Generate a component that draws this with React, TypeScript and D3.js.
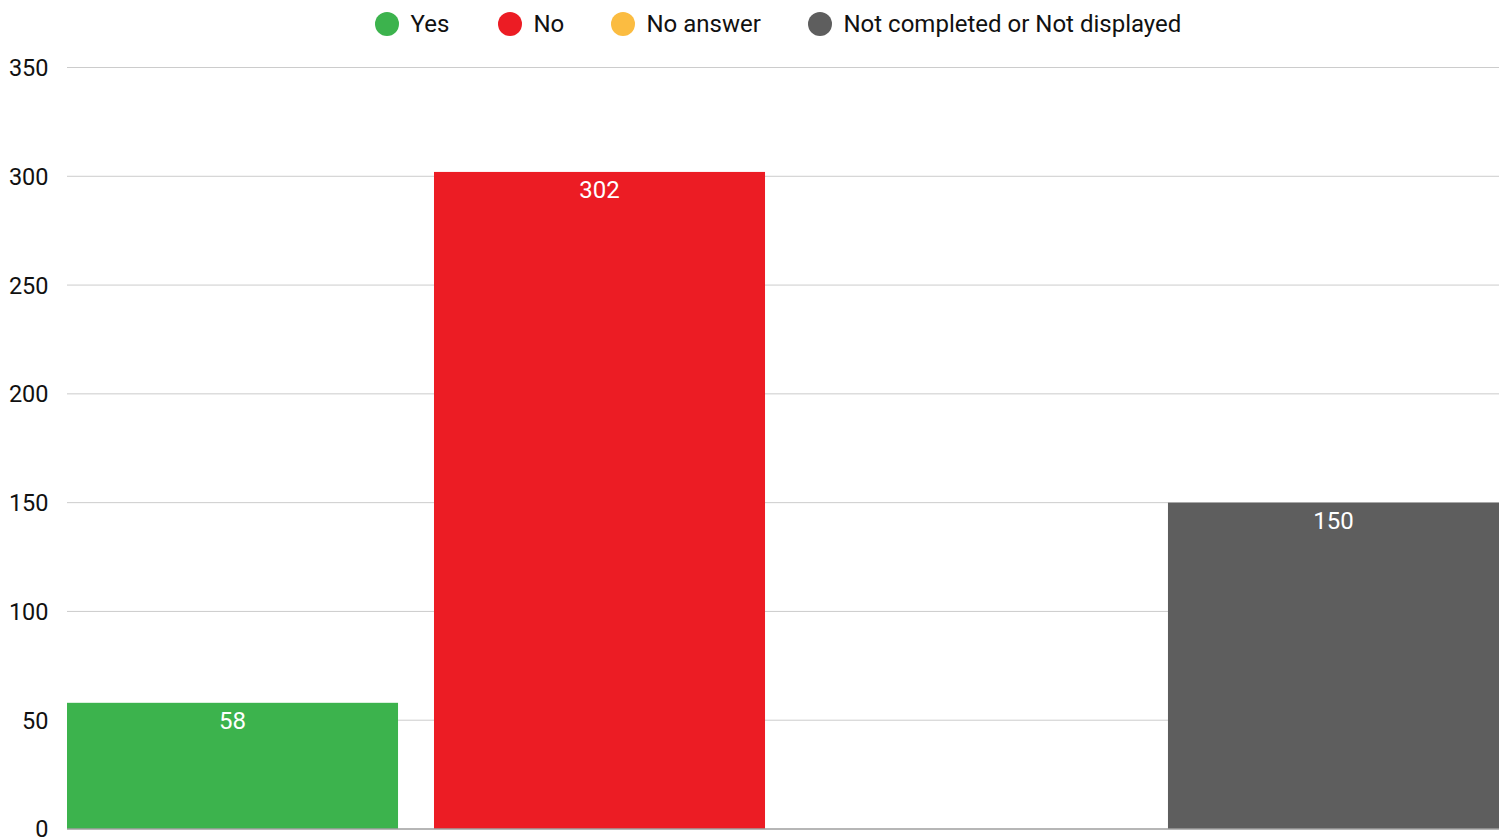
import React from "react";
import * as d3 from "d3";

const categories = ["Yes", "No", "No answer", "Not completed or Not displayed"];
const values = [58, 302, 0, 150];
const colors = ["#3cb34d", "#ec1c24", "#fbbc41", "#5e5e5e"];
const yTicks = [0, 50, 100, 150, 200, 250, 300, 350];
const legendX = [387, 510, 623, 820];

const W = 1512;
const H = 838;
const left = 67;
const right = 1499;
const top = 67.5;
const bottom = 829;
const FONT = "Roboto, 'Noto Sans', sans-serif";

export default function App() {
  const x = d3.scaleBand<string>().domain(categories).range([left, right]).paddingInner(0.098).paddingOuter(0);
  const y = d3.scaleLinear().domain([0, 350]).range([bottom, top]);
  return (
    <svg width={W} height={H} style={{ position: "absolute", left: 0, top: 0, display: "block" }}>
      <rect width={W} height={H} fill="#fff" />
      {yTicks.map((t) => (
        <g key={t}>
          {t > 0 && <line x1={left} x2={right} y1={y(t)} y2={y(t)} stroke="#cccccc" strokeWidth={1} />}
          <text x={48.5} y={y(t)} dy="0.36em" textAnchor="end" fontFamily={FONT} fontSize={23.5} fill="#111">
            {t}
          </text>
        </g>
      ))}
      {categories.map((c, i) => (
        <rect key={c} x={x(c)} width={x.bandwidth()} y={y(values[i])} height={bottom - y(values[i])} fill={colors[i]} />
      ))}
      <line x1={left} x2={right} y1={bottom} y2={bottom} stroke="#9e9e9e" strokeWidth={1.5} />
      {categories.map((c, i) =>
        values[i] > 0 ? (
          <text key={c} x={(x(c) as number) + x.bandwidth() / 2} y={y(values[i]) + 26} textAnchor="middle" fontFamily={FONT} fontSize={24} fill="#fff">
            {values[i]}
          </text>
        ) : null
      )}
      {categories.map((c, i) => (
        <g key={c}>
          <circle cx={legendX[i]} cy={24} r={12} fill={colors[i]} />
          <text x={legendX[i] + 23.5} y={23.5} dy="0.36em" fontFamily={FONT} fontSize={24} fill="#111">
            {c}
          </text>
        </g>
      ))}
    </svg>
  );
}
